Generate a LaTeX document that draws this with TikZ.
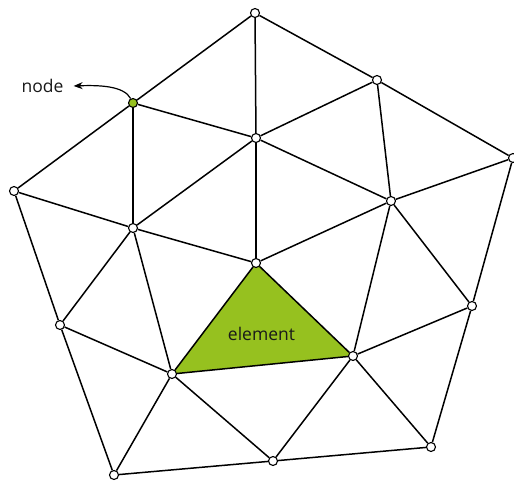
\documentclass[tikz,border=0pt]{standalone}
\usepackage{fontspec}
\setmainfont{Open Sans}
\usetikzlibrary{arrows.meta,backgrounds}
\definecolor{elemgreen}{RGB}{150,193,31}
\begin{document}
\begin{tikzpicture}[x=1pt,y=-1pt]
      \useasboundingbox (0,0) rectangle (514,481);
      \begin{scope}
        \tikzstyle{mnode} = [line width=1.1pt, draw=black, fill=white, circle, inner sep=0pt, minimum size=9pt]
        \tikzstyle{edge} = [line width=1.5pt]
        \tikzstyle{lbl} = [inner sep=0pt, text=black!90, font=\fontsize{17.5}{20}\selectfont]
        \node[mnode] (n1) at (255,13) {};
        \node[mnode] (n2) at (377,80) {};
        \node[mnode] (n3) at (513,158) {};
        \node[mnode] (n4) at (14,191) {};
        \node[mnode, fill=elemgreen] (n5) at (133,103) {};
        \node[mnode] (n6) at (256,138) {};
        \node[mnode] (n7) at (391,201) {};
        \node[mnode] (n8) at (133,228) {};
        \node[mnode] (n9) at (256,263) {};
        \node[mnode] (n10) at (472,306) {};
        \node[mnode] (n11) at (60,325) {};
        \node[mnode] (n12) at (172,374) {};
        \node[mnode] (n13) at (353,356) {};
        \node[mnode] (n14) at (431,447) {};
        \node[mnode] (n15) at (273,461) {};
        \node[mnode] (n16) at (114,475) {};

        % the element
        \begin{pgfonlayer}{background}
          \fill[elemgreen] (n9.center) -- (n12.center) -- (n13.center) -- cycle;
        \end{pgfonlayer}
        \node[lbl] (elem) at (261.5,334) {element};
        \node[lbl] (lnode) at (42.5,86) {node};

        % outer boundary
        \draw[edge] (n1) -- (n2);
        \draw[edge] (n2) -- (n3);
        \draw[edge] (n3) -- (n10);
        \draw[edge] (n10) -- (n14);
        \draw[edge] (n14) -- (n15);
        \draw[edge] (n15) -- (n16);
        \draw[edge] (n16) -- (n11);
        \draw[edge] (n11) -- (n4);
        \draw[edge] (n4) -- (n5);
        \draw[edge] (n5) -- (n1);

        % inner edges
        \draw[edge] (n1) -- (n6);
        \draw[edge] (n5) -- (n6);
        \draw[edge] (n5) -- (n8);
        \draw[edge] (n4) -- (n8);
        \draw[edge] (n6) -- (n2);
        \draw[edge] (n6) -- (n7);
        \draw[edge] (n2) -- (n7);
        \draw[edge] (n7) -- (n3);
        \draw[edge] (n8) -- (n6);
        \draw[edge] (n7) -- (n9);
        \draw[edge] (n7) -- (n13);
        \draw[edge] (n7) -- (n10);
        \draw[edge] (n6) -- (n9);
        \draw[edge] (n8) -- (n9);
        \draw[edge] (n8) -- (n11);
        \draw[edge] (n8) -- (n12);
        \draw[edge] (n11) -- (n12);
        \draw[edge] (n12) -- (n16);
        \draw[edge] (n12) -- (n15);
        \draw[edge] (n12) -- (n9);
        \draw[edge] (n12) -- (n13);
        \draw[edge] (n9) -- (n13);
        \draw[edge] (n13) -- (n15);
        \draw[edge] (n13) -- (n14);
        \draw[edge] (n13) -- (n10);

        % label arrow
        \draw[line width=1.2pt, -{Stealth[length=9pt,width=7pt]}] (n5) .. controls (124,86) and (100,85) .. ([xshift=10pt]lnode.east);
      \end{scope}
    \end{tikzpicture}
\end{document}
